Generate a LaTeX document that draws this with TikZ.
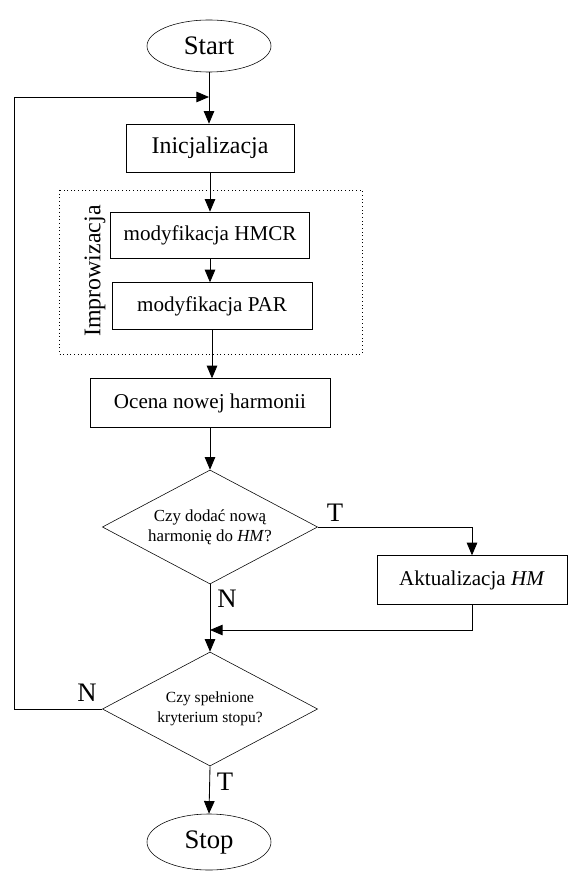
\documentclass[tikz,border=0pt]{standalone}
\usepackage{fontspec}
\setmainfont{Liberation Serif}
\usepackage{tikz}
\usetikzlibrary{shapes.geometric, arrows.meta, positioning}

\begin{document}
\begin{tikzpicture}[
    x=0.025cm, y=-0.025cm,
    terminal/.style={draw, ellipse, minimum width=3.1cm, minimum height=1.3cm, inner sep=0pt, font=\fontsize{19}{22}\selectfont},
    block/.style={draw, rectangle, minimum height=1.2cm, inner sep=0pt, font=\fontsize{15}{18}\selectfont},
    decision/.style={draw, diamond, aspect=1.89, minimum width=5.38cm, minimum height=2.85cm, inner sep=0pt, align=center, font=\fontsize{12}{14}\selectfont},
    lbl/.style={font=\fontsize{19}{22}\selectfont, inner sep=0pt},
    arrow/.style={-{Triangle[length=9pt, width=7.5pt]}, line width=0.6pt},
    line/.style={line width=0.6pt}
]
    \useasboundingbox (0,0) rectangle (568,872);

    \node[terminal] (start) at (209,46) {Start};
    \node[block, minimum width=4.2cm, font=\fontsize{17}{20}\selectfont] (init) at (210,148) {Inicjalizacja};
    \node[block, minimum width=4.98cm, minimum height=1.15cm] (hmcr) at (210,235) {modyfikacja HMCR};
    \node[block, minimum width=5cm, minimum height=1.17cm] (par) at (212,306) {modyfikacja PAR};
    \draw[dotted, line width=0.6pt] (59,190) rectangle (362,354);
    \node[rotate=90, font=\fontsize{17}{20}\selectfont, inner sep=0pt] (impro) at (95,271) {Improwizacja};
    \node[block, minimum width=6cm, minimum height=1.22cm] (ocena) at (210,403) {Ocena nowej harmonii};
    \node[decision] (dodac) at (210,527) {Czy doda\'c now\k{a}\\harmoni\k{e} do \textit{HM}?};
    \node[block, minimum width=4.75cm, minimum height=1.22cm] (aktual) at (472,580) {Aktualizacja \textit{HM}};
    \node[decision, font=\fontsize{11}{14}\selectfont] (kryt) at (210,709) {Czy spe\l{}nione\\kryterium stopu?};
    \node[terminal, minimum height=1.4cm] (stop) at (209,842) {Stop};

    \coordinate (loop) at (209,97);
    \coordinate (corner) at (14,97);
    \coordinate (merge) at (210,630);

    \draw[arrow] (start) -- (start |- init.north);
    \draw[arrow] (init) -- (init |- hmcr.north);
    \draw[arrow] (hmcr) -- (hmcr |- par.north);
    \draw[arrow] (par) -- (par |- ocena.north);
    \draw[arrow] (ocena) -- (dodac);
    \draw[arrow] (dodac.east) -| (aktual.north);
    \draw[arrow] (aktual.south) |- (merge);
    \draw[arrow] (dodac.south) -- (kryt.north);
    \draw[arrow] (kryt.south) -- (stop.north);
    \draw[arrow] (kryt.west) -| (corner) -- (loop);

    \node[lbl] (t1) at (335,513) {T};
    \node[lbl] (n1) at (227,599) {N};
    \node[lbl] (n2) at (87,693) {N};
    \node[lbl] (t2) at (225,782) {T};
\end{tikzpicture}
\end{document}
